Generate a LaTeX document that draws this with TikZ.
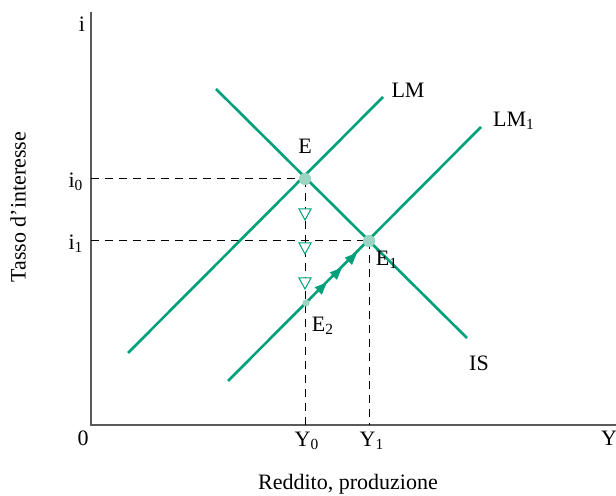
\documentclass[tikz,border=0pt]{standalone}
\usepackage{fontspec}
\setmainfont{Liberation Serif}
\usepackage{tikz}
\usetikzlibrary{arrows.meta, positioning, decorations.markings}
\definecolor{curvegreen}{RGB}{0, 160, 122}
\definecolor{dotgreen}{RGB}{156, 214, 194}
\definecolor{axisgray}{RGB}{90, 90, 90}

\tikzset{
  curve/.style={curvegreen, line width=1.3pt},
  guide/.style={black, line width=0.5pt, dash pattern=on 4pt off 3pt},
  lbl/.style={inner sep=0pt, font=\fontsize{11}{13}\selectfont},
  eqdot/.style={circle, fill=dotgreen, inner sep=0pt, minimum size=6pt},
}

\begin{document}
\begin{tikzpicture}[x=0.5pt, y=-0.5pt]
  \useasboundingbox (0,0) rectangle (616,496);
  % axes
  \coordinate (O) at (91,425);
  \coordinate (ytop) at (91,12);
  \coordinate (xend) at (616,425);
  \draw[axisgray, line width=0.7pt] (ytop) -- (O) -- (xend);
  \node[lbl] (ilab) at (82,24) {i};
  \node[lbl] (zero) at (83,438) {0};
  \node[lbl] (ylab) at (609,438) {Y};
  \node[lbl] (xtitle) at (348,484) {Reddito, produzione};
  \node[lbl, rotate=90] (ytitle) at (18,207) {Tasso d'interesse};

  % equilibria
  \node[eqdot] (E) at (305,179) {};
  \node[eqdot] (E1) at (369,241) {};
  \node[eqdot, minimum size=3.5pt] (E2) at (306,303) {};
  \coordinate (i0) at (91,179);
  \coordinate (i1) at (91,241);
  \coordinate (Y0) at (305,425);
  \coordinate (Y1) at (369,425);

  % dashed guides
  \draw[guide] (i0) -- (E.center);
  \draw[guide] (i1) -- (E1.center);
  \draw[guide] (E.center) -- (Y0);
  \draw[guide] (E1.center) -- (Y1);

  % curves
  \coordinate (lmA) at (128,353);
  \coordinate (lmB) at (383,97);
  \coordinate (isA) at (216,89);
  \coordinate (isB) at (467,338);
  \coordinate (lmoA) at (228,381);
  \coordinate (lmoB) at (481,127);
  \draw[curve] (lmA) -- (lmB);
  \draw[curve] (isA) -- (isB);
  \draw[curve] (lmoA) -- (lmoB);
  \path[decoration={markings,
      mark=at position 0.33 with {\arrow{Triangle[length=6pt, width=5pt]}},
      mark=at position 0.57 with {\arrow{Triangle[length=6pt, width=5pt]}},
      mark=at position 0.81 with {\arrow{Triangle[length=6pt, width=5pt]}}},
    postaction=decorate, curvegreen] (E2.center) -- (E1.center);

  % open triangles on the way down
  \foreach \yy in {214,248,283} {
    \draw[curvegreen, fill=white, line width=0.5pt]
      (299,\yy-5) -- (311,\yy-5) -- (305,\yy+6) -- cycle;
  }

  \node[eqdot] at (E) {};
  \node[eqdot] at (E1) {};
  \node[eqdot, minimum size=3.5pt] at (E2) {};

  % labels
  \node[lbl] (LMlab) at (408,90) {LM};
  \node[lbl] (LM1lab) at (514,121) {LM\textsubscript{1}};
  \node[lbl] (ISlab) at (479,363) {IS};
  \node[lbl] (Elab) at (305,146) {E};
  \node[lbl] (E1lab) at (387,260) {E\textsubscript{1}};
  \node[lbl] (E2lab) at (323,326) {E\textsubscript{2}};
  \node[lbl] (i0lab) at (76,182) {i\textsubscript{0}};
  \node[lbl] (i1lab) at (76,244) {i\textsubscript{1}};
  \node[lbl] (Y0lab) at (307,441) {Y\textsubscript{0}};
  \node[lbl] (Y1lab) at (372,441) {Y\textsubscript{1}};
\end{tikzpicture}
\end{document}
